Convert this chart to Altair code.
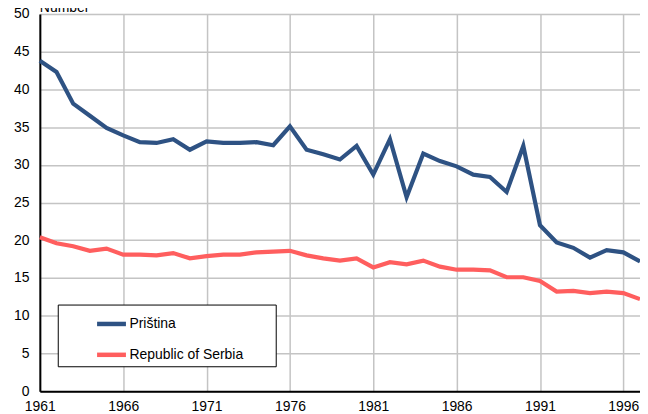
import altair as alt
import pandas as pd

years = list(range(1961, 1998))
pristina = [43.8, 42.3, 38.1, 36.5, 34.9, 33.9, 33.0, 32.9, 33.4, 32.0,
            33.1, 32.9, 32.9, 33.0, 32.6, 35.1, 32.0, 31.4, 30.7, 32.5,
            28.7, 33.4, 25.7, 31.5, 30.5, 29.8, 28.7, 28.4, 26.4, 32.5,
            22.0, 19.7, 19.0, 17.7, 18.7, 18.4, 17.2]
serbia = [20.4, 19.6, 19.2, 18.6, 18.9, 18.1, 18.1, 18.0, 18.3, 17.6,
          17.9, 18.1, 18.1, 18.4, 18.5, 18.6, 18.0, 17.6, 17.3, 17.6,
          16.4, 17.1, 16.8, 17.3, 16.5, 16.1, 16.1, 16.0, 15.1, 15.1,
          14.6, 13.2, 13.3, 13.0, 13.2, 13.0, 12.2]
series_names = ["Priština", "Republic of Serbia"]
colors = ["#2E5283", "#FF5E5E"]
x_ticks = list(range(1961, 1997, 5))
y_ticks = list(range(0, 51, 5))

df = pd.concat([
    pd.DataFrame({"year": years, "value": pristina, "series": series_names[0]}),
    pd.DataFrame({"year": years, "value": serbia, "series": series_names[1]}),
])

font = "Liberation Sans"
pad_spaces = "\u2800" * 3

chart = alt.Chart(df).mark_line(strokeWidth=4.2, strokeJoin="miter").encode(
    x=alt.X("year:Q", scale=alt.Scale(domain=[1961, 1997], nice=False, zero=False),
            axis=alt.Axis(values=x_ticks, format="d", title=None, grid=True,
                          gridColor="#c4c4c4", gridWidth=1.5, ticks=False,
                          domainColor="#000", domainWidth=2, labelFontSize=14,
                          labelFont=font, labelColor="#000", labelPadding=8,
                          labelFlush=False)),
    y=alt.Y("value:Q", scale=alt.Scale(domain=[0, 50], nice=False),
            axis=alt.Axis(values=y_ticks, title=None, grid=True,
                          gridColor="#c4c4c4", gridWidth=1.5, ticks=False,
                          domainColor="#000", domainWidth=2, labelFontSize=14,
                          labelFont=font, labelColor="#000", labelPadding=11)),
    color=alt.Color("series:N", scale=alt.Scale(domain=series_names, range=colors),
                    legend=alt.Legend(title=None, orient="none", legendX=18, legendY=292,
                                      strokeColor="#000", fillColor="#fff",
                                      padding=2.5, symbolOffset=34.5, symbolType="stroke",
                                      symbolSize=841, symbolStrokeWidth=4.5,
                                      labelFontSize=14, labelFont=font, labelColor="#000",
                                      labelOffset=1, rowPadding=5,
                                      labelExpr="datum.label + '" + pad_spaces + "'")),
).properties(
    width=603, height=379,
    title=alt.TitleParams("Number", anchor="start", frame="group", offset=3,
                          fontSize=14, font=font, fontWeight="normal", color="#000", dy=11),
    padding={"left": 32, "top": 5, "right": 0, "bottom": 22},
    autosize=alt.AutoSizeParams(type="none"),
).configure_view(stroke="#222", strokeWidth=2).configure(background="#fff")

chart.save("out.html", embed_options={"renderer": "svg", "actions": False})
